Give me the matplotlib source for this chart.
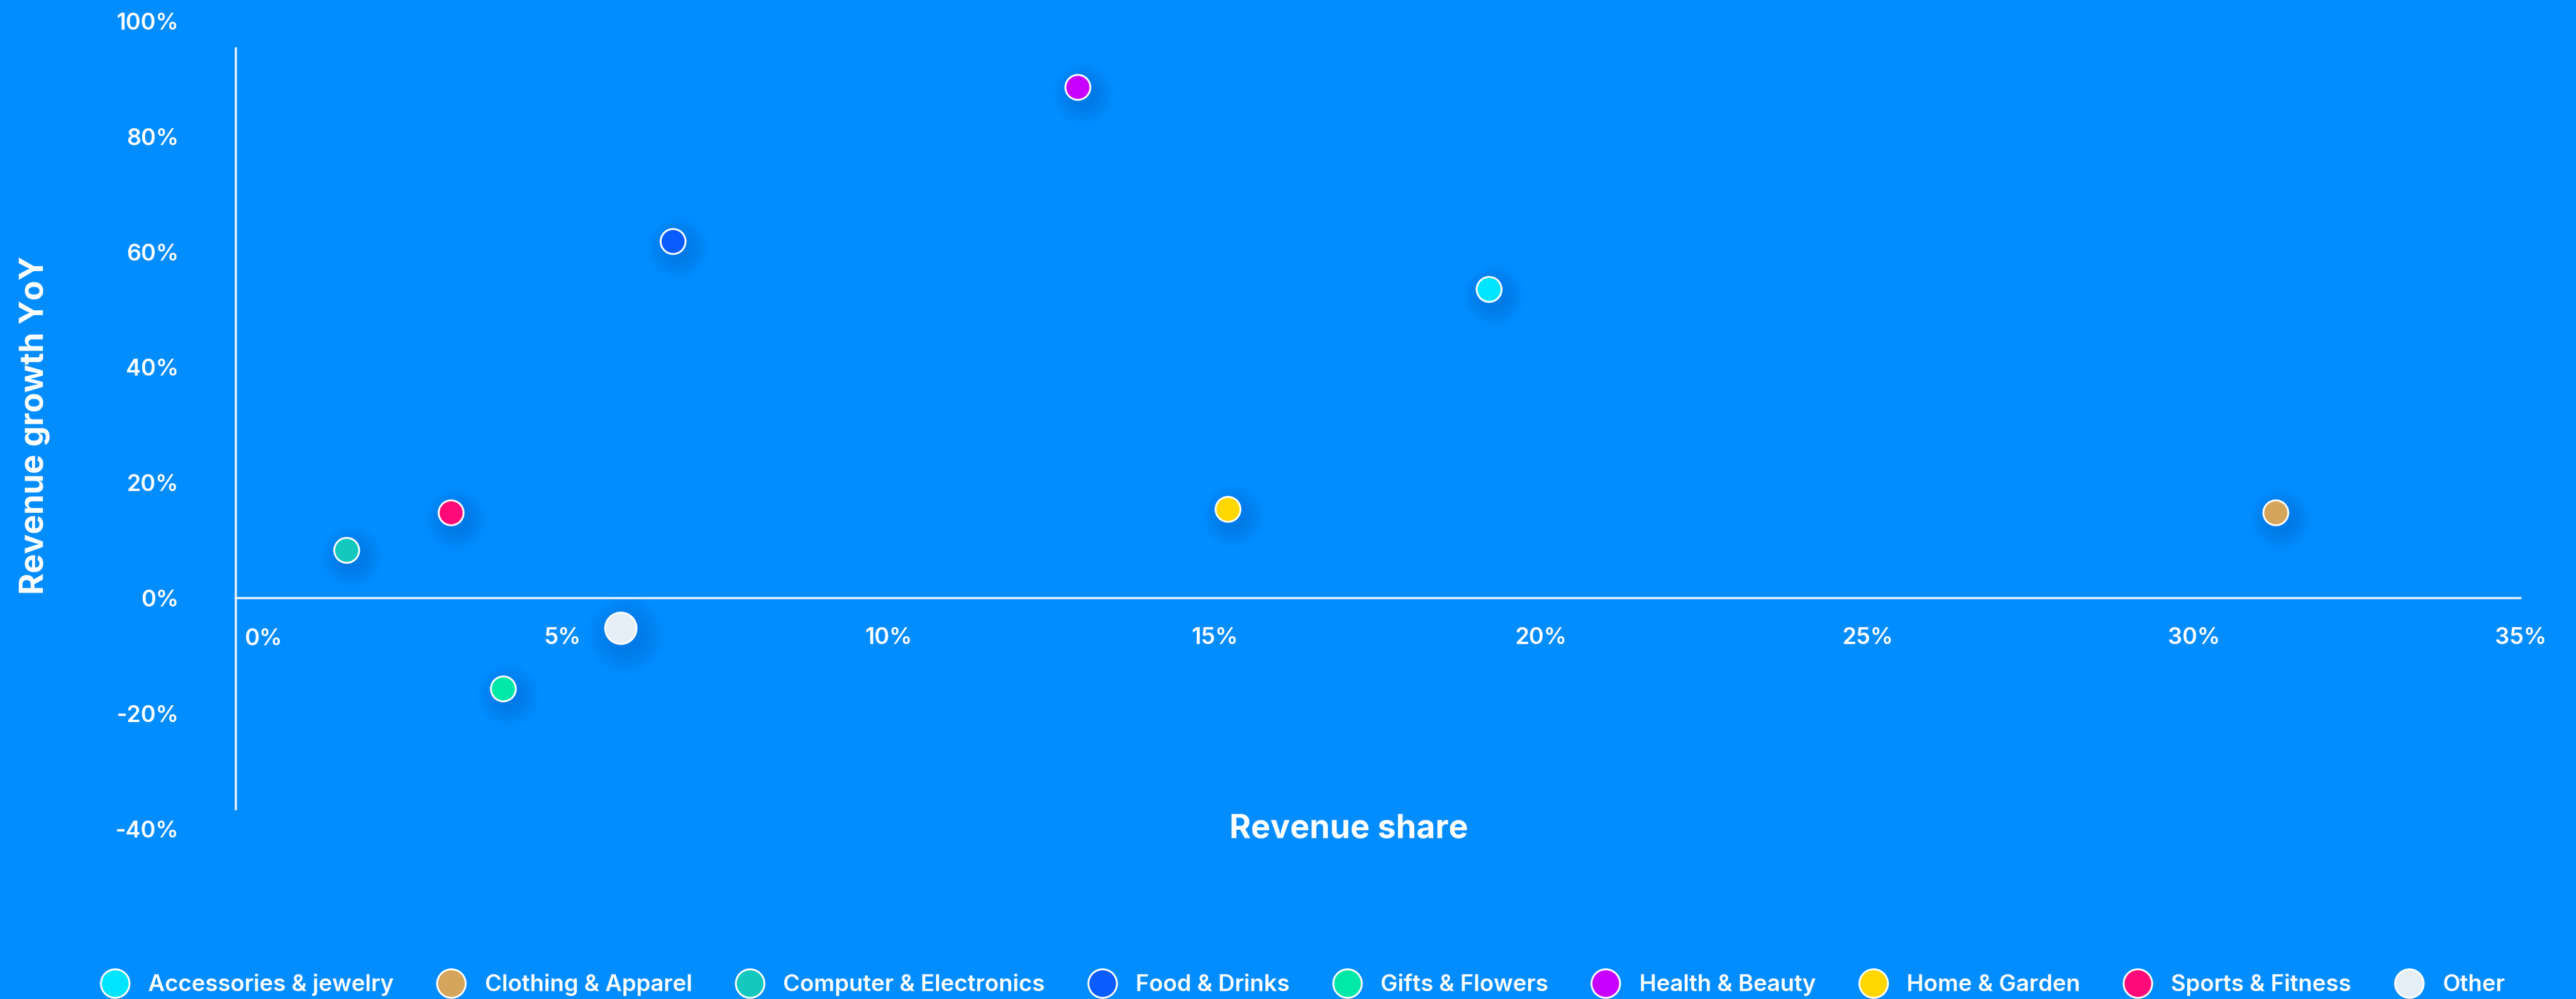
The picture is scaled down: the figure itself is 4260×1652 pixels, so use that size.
import matplotlib.pyplot as plt
import matplotlib.transforms as mtransforms
from matplotlib.lines import Line2D

# revenue share vs revenue growth per category
categories = ["Accessories & jewelry", "Clothing & Apparel", "Computer & Electronics",
              "Food & Drinks", "Gifts & Flowers", "Health & Beauty",
              "Home & Garden", "Sports & Fitness", "Other"]
revenue_share = [19.2, 31.25, 1.7, 6.7, 4.1, 12.9, 15.2, 3.3, 5.9]
revenue_growth = [53.5, 14.8, 8.3, 61.8, -15.7, 88.5, 15.4, 14.8, -5.2]
colors = ["#00E5FF", "#D4A55A", "#14C8BE", "#0A5CFF", "#00E8A8",
          "#C800FF", "#FFD700", "#FF0A78", "#E6EEF8"]
sizes = [220, 220, 220, 220, 220, 220, 220, 220, 350]

x_ticks = [0, 5, 10, 15, 20, 25, 30, 35]
y_ticks = [-40, -20, 0, 20, 40, 60, 80, 100]

bg = "#028DFF"
plt.rcParams['font.family'] = ['Inter', 'DejaVu Sans']

fig = plt.figure(figsize=(21.3, 8.26), dpi=200, facecolor=bg)
ax = fig.add_axes([0.0915, 0.170, 0.887, 0.809])
ax.set_facecolor(bg)

# soft drop shadow behind each point
for k in range(7):
    off = mtransforms.ScaledTranslation(3 / 72, -4 / 72, fig.dpi_scale_trans)
    grow = (1 + 0.25 * k) ** 2
    ax.scatter(revenue_share, revenue_growth, s=[s * grow for s in sizes],
               color="#0050B0", alpha=0.045, linewidths=0,
               transform=ax.transData + off, zorder=2)

ax.scatter(revenue_share, revenue_growth, s=sizes, c=colors,
           edgecolors="white", linewidths=1.1, zorder=3)

ax.set_xlim(0, 35)
ax.set_ylim(-40, 100)

for side in ["top", "right"]:
    ax.spines[side].set_visible(False)
ax.spines["bottom"].set_position(("data", 0))
ax.spines["bottom"].set_color("#EEF2F7")
ax.spines["bottom"].set_linewidth(1.3)
ax.spines["left"].set_color("#EEF2F7")
ax.spines["left"].set_linewidth(1.3)
ax.spines["left"].set_bounds(-36.5, 95.3)

ax.set_xticks(x_ticks)
ax.set_xticklabels([f"{v}%" for v in x_ticks])
ax.set_yticks(y_ticks)
ax.set_yticklabels([f"{v}%" for v in y_ticks])
ax.tick_params(axis="x", length=0, pad=17, labelsize=13.5, labelcolor="white")
ax.tick_params(axis="y", length=0, pad=34, labelsize=13.5, labelcolor="white")
for lab in ax.get_xticklabels() + ax.get_yticklabels():
    lab.set_fontweight("semibold")
first = ax.get_xticklabels()[0]
first.set_horizontalalignment("left")
first.set_transform(first.get_transform() + mtransforms.ScaledTranslation(5 / 72, -1 / 72, fig.dpi_scale_trans))

ax.set_xlabel("Revenue share", color="white", fontsize=19.5, fontweight="bold", va="center")
ax.xaxis.set_label_coords(0.487, 0.0)
ax.set_ylabel("Revenue growth YoY", color="white", fontsize=19.5, fontweight="bold", va="center")
ax.yaxis.set_label_coords(-0.088, 0.5)

handles = [Line2D([], [], marker="o", ls="", markersize=17, markerfacecolor=c,
                  markeredgecolor="white", markeredgewidth=1.1) for c in colors]
leg = fig.legend(handles, categories, loc="center", bbox_to_anchor=(0.504, 0.014),
                 ncol=9, frameon=False, handletextpad=0.45, columnspacing=1.5,
                 prop={"size": 13.7, "weight": "semibold"})
for t in leg.get_texts():
    t.set_color("white")

fig.savefig("out.png", dpi=200, facecolor=bg)
